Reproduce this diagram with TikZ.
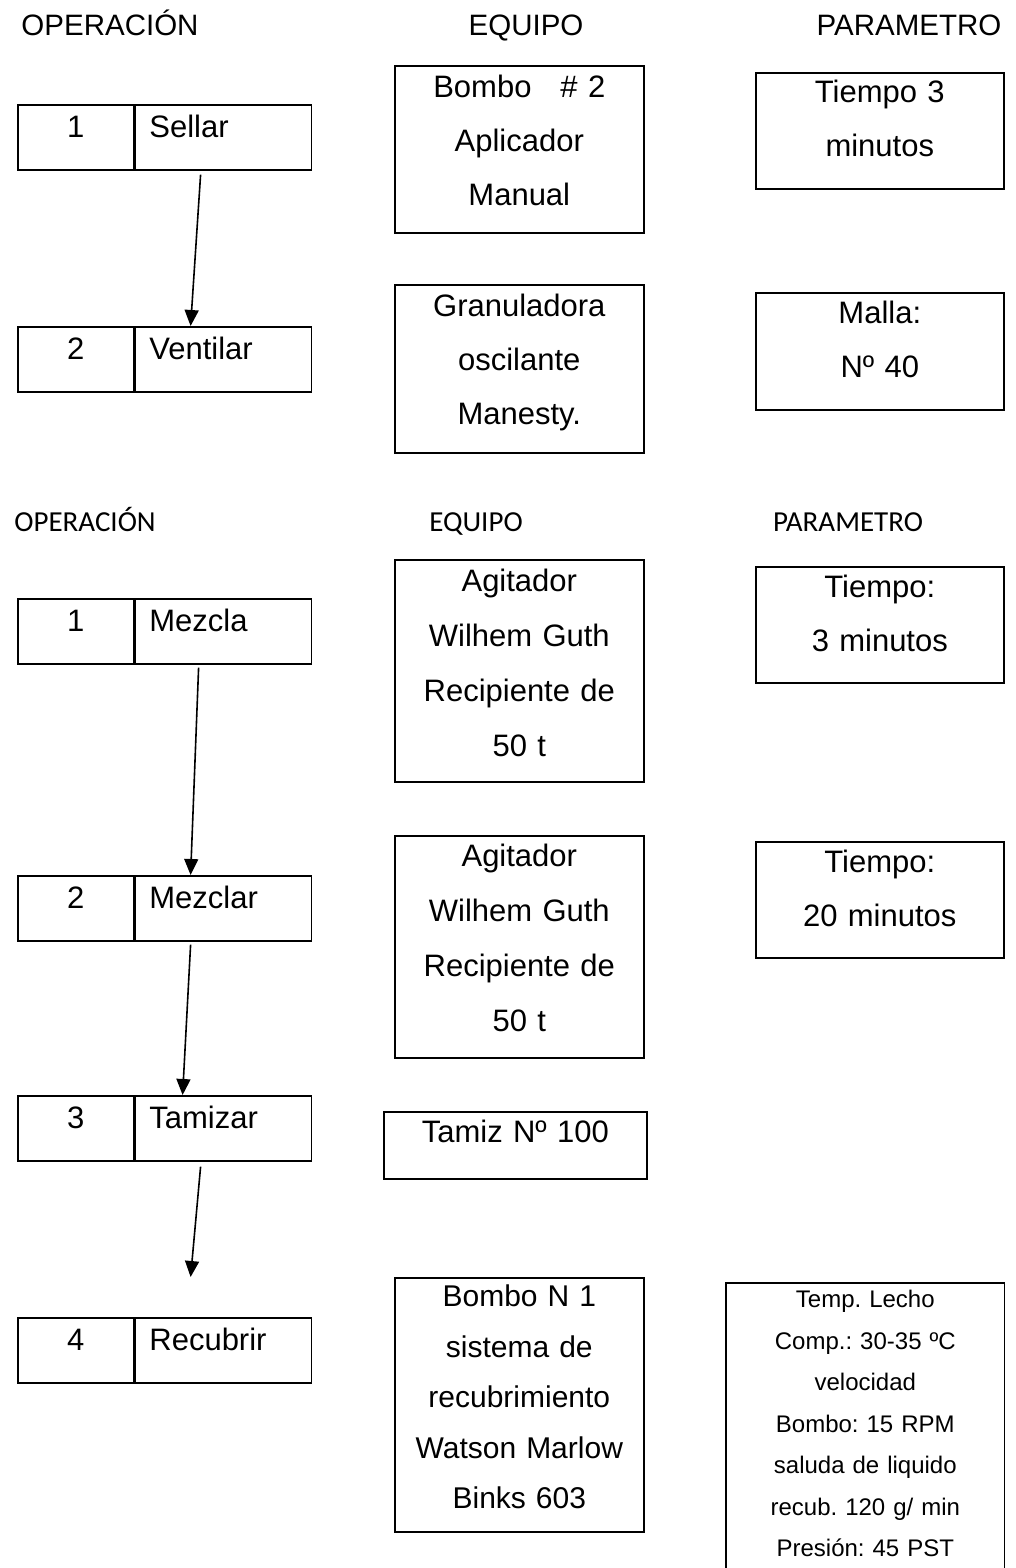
\documentclass[tikz,border=0pt]{standalone}
\usepackage{fontspec}
\setmainfont{Liberation Sans}
\newfontfamily\carlitofont{Carlito}
\usepackage{tikz}
\usetikzlibrary{arrows.meta,positioning}

\begin{document}
\begin{tikzpicture}[x=1pt,y=-1pt,
  hdr/.style={anchor=base, inner sep=0pt, font=\fontsize{29.5}{36}\selectfont},
  hdrb/.style={anchor=base, inner sep=0pt, font=\carlitofont\fontsize{29}{36}\selectfont},
  box/.style={draw, line width=1.6pt, inner sep=0pt, font=\fontsize{31}{54}\selectfont,
    execute at begin node=\frenchspacing},
  numcell/.style={box, anchor=north west, text width=116pt, align=center, text height=33pt, text depth=32pt},
  namecell/.style={box, inner xsep=14pt, text width=148pt, align=left, text height=33pt, text depth=32pt},
  eqbox/.style={box, anchor=north west, text width=249pt, align=center},
  parbox/.style={box, anchor=north west, text width=248pt, align=center},
  flow/.style={line width=1.6pt, -{Triangle[length=16pt,width=14pt]}}]
\path[use as bounding box, fill=white] (0,0) rectangle (1016,1568);

% first table
\node[hdr] (hOpA) at (110,36) {OPERACIÓN};
\node[hdr] (hEqA) at (526,36) {EQUIPO};
\node[hdr] (hParA) at (909,36) {PARAMETRO};

\node[numcell] (nA1) at (17,104) {1};
\node[namecell, right=0pt of nA1] (oA1) {Sellar};
\node[numcell] (nA2) at (17,326) {2};
\node[namecell, right=0pt of nA2] (oA2) {Ventilar};

\node[eqbox, text height=32pt, text depth=135pt] (eA1) at (394,65) {Bombo\hspace{29pt}\# 2\\Aplicador\\Manual};
\node[eqbox, text height=32pt, text depth=136pt] (eA2) at (394,284) {Granuladora\\oscilante\\Manesty.};
\node[parbox, text height=30pt, text depth=86pt] (pA1) at (755,72) {Tiempo 3\\minutos};
\node[parbox, text height=31pt, text depth=86pt] (pA2) at (755,292) {Malla:\\Nº 40};

\draw[flow] ([xshift=66pt,yshift=-4pt]oA1.south west) -- ([xshift=56pt]oA2.north west);

% second table
\node[hdrb] (hOpB) at (85,531) {OPERACIÓN};
\node[hdrb] (hEqB) at (476,531) {EQUIPO};
\node[hdrb] (hParB) at (848,531) {PARAMETRO};

\node[numcell] (nB1) at (17,598) {1};
\node[namecell, right=0pt of nB1] (oB1) {Mezcla};
\node[numcell] (nB2) at (17,875) {2};
\node[namecell, right=0pt of nB2] (oB2) {Mezclar};
\node[numcell] (nB3) at (17,1095) {3};
\node[namecell, right=0pt of nB3] (oB3) {Tamizar};
\node[numcell] (nB4) at (17,1317) {4};
\node[namecell, right=0pt of nB4] (oB4) {Recubrir};

\node[eqbox, font=\fontsize{31}{55}\selectfont, text height=32pt, text depth=190pt] (eB1) at (394,559) {Agitador\\Wilhem Guth\\Recipiente de\\50 t};
\node[eqbox, font=\fontsize{31}{55}\selectfont, text height=31pt, text depth=191pt] (eB2) at (394,835) {Agitador\\Wilhem Guth\\Recipiente de\\50 t};
\node[eqbox, text width=263pt, text height=31pt, text depth=36pt] (eB3) at (383,1111) {Tamiz Nº 100};
\node[eqbox, font=\fontsize{30}{50.5}\selectfont, text height=29pt, text depth=225pt] (eB4) at (394,1277) {Bombo N 1\\sistema de\\recubrimiento\\Watson Marlow\\Binks 603};

\node[parbox, text height=31pt, text depth=85pt] (pB1) at (755,566) {Tiempo:\\3 minutos};
\node[parbox, text height=31pt, text depth=85pt] (pB2) at (755,841) {Tiempo:\\20 minutos};
\node[parbox, draw=none, text width=277pt, font=\fontsize{24}{41.5}\selectfont, text height=24pt, text depth=261pt] (pB3) at (726,1283) {Temp. Lecho\\Comp.: 30-35 ºC\\velocidad\\Bombo: 15 RPM\\saluda de liquido\\recub. 120 g/ min\\Presión: 45 PST};
\draw[line width=1.6pt] (pB3.south west) -- (pB3.north west) -- (pB3.north east) -- (pB3.south east);

\coordinate (c34) at ([xshift=56pt,yshift=40pt]oB4.north west);
\draw[flow] ([xshift=64pt,yshift=-3pt]oB1.south west) -- ([xshift=56pt]oB2.north west);
\draw[flow] ([xshift=56pt,yshift=-3pt]oB2.south west) -- ([xshift=48pt]oB3.north west);
\draw[flow] ([xshift=66pt,yshift=-5pt]oB3.south west) -- (c34);
\end{tikzpicture}
\end{document}
